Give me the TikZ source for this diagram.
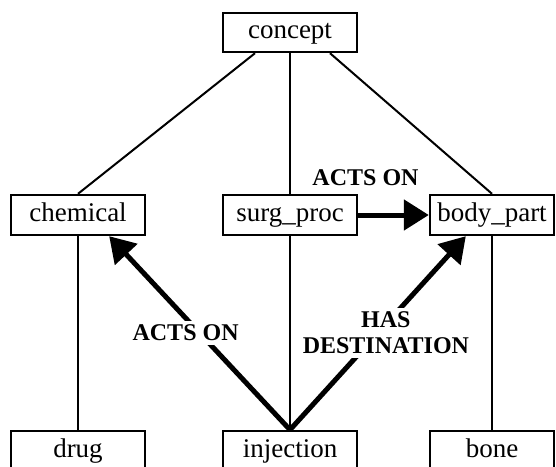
\documentclass[tikz,border=0pt]{standalone}
\usepackage{fontspec}
\setmainfont{Liberation Serif}
\usepackage{tikz}
\usetikzlibrary{arrows.meta}

\begin{document}
\begin{tikzpicture}[x=1pt, y=1pt,
  box/.style={rectangle, draw, line width=1.2pt, minimum width=67pt, minimum height=20pt, inner sep=0pt, text height=9.5pt, text depth=3pt, font=\fontsize{13.5}{16}\selectfont},
  link/.style={line width=1pt},
  rel/.style={line width=2.5pt, -{Triangle[length=12.5pt, width=15pt]}},
  lbl/.style={fill=white, align=center, inner sep=2pt, font=\bfseries\fontsize{12}{13}\selectfont}]
\useasboundingbox (0,0) rectangle (278,-233);

\node[box, minimum height=19.5pt] (concept) at (145,-16.25) {concept};
\node[box] (chemical) at (39,-107.5) {chemical};
\node[box] (surgproc) at (145,-107.5) {surg\_proc};
\node[box, minimum width=62pt] (bodypart) at (246,-107.5) {body\_part};
\node[box] (drug) at (39,-225.5) {drug};
\node[box] (injection) at (145,-225.5) {injection};
\node[box, minimum width=62pt] (bone) at (246,-225.5) {bone};

\draw[link] ([xshift=-17.5pt]concept.south) -- (chemical.north);
\draw[link] (concept) -- (surgproc);
\draw[link] ([xshift=20pt]concept.south) -- (bodypart.north);
\draw[link] (chemical) -- (drug);
\draw[link] (surgproc) -- (injection);
\draw[link] (bodypart) -- (bone);

\draw[rel] (surgproc.east) -- (bodypart.west) node[lbl, midway, xshift=-14pt, yshift=18.5pt] {ACTS ON};
\draw[rel] (injection.north) -- ([xshift=-18.5pt]chemical.south east) node[lbl, midway, xshift=-7pt] {ACTS ON};
\draw[rel] (injection.north) -- ([xshift=18.5pt]bodypart.south west) node[lbl, midway, xshift=4pt] {HAS\\DESTINATION};
\end{tikzpicture}
\end{document}
